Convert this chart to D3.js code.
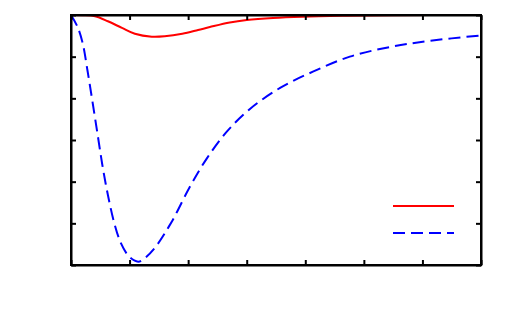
<!DOCTYPE html>
<html>
<head>
<meta charset="utf-8">
<style>
  body { margin: 0; background: #fff; }
  .axis path, .axis line { stroke: #000; stroke-width: 2; }
</style>
</head>
<body>
<div id="chart"></div>
<script src="https://cdn.jsdelivr.net/npm/d3@7"></script>
<script>
// values
var redX  = [0, 0.2, 0.41, 0.63, 0.87, 1.09, 1.38, 1.6, 1.9, 2.17, 2.37, 2.71, 3.0, 3.45, 3.96, 4.64, 5.5, 7];
var redY  = [0, -0.004, -0.03, -0.15, -0.31, -0.45, -0.52, -0.51, -0.45, -0.36, -0.29, -0.18, -0.12, -0.07, -0.04, -0.02, -0.006, 0];
var blueX = [0, 0.11, 0.2, 0.28, 0.37, 0.46, 0.54, 0.63, 0.74, 0.85, 0.97, 1.08, 1.15, 1.23, 1.43, 1.72, 2.03, 2.32, 2.66, 3.05, 3.57, 4.13, 4.76, 5.44, 6.13, 7];
var blueY = [0, -0.28, -0.68, -1.32, -2.11, -2.92, -3.64, -4.32, -5.0, -5.47, -5.76, -5.89, -5.92, -5.87, -5.59, -4.96, -4.12, -3.44, -2.8, -2.26, -1.75, -1.36, -1.0, -0.77, -0.62, -0.49];
var xTicks = [0, 1, 2, 3, 4, 5, 6, 7];
var yTicks = [-6, -5, -4, -3, -2, -1, 0];

var W = 507, H = 313;
var margin = {top: 15, right: 26, bottom: 48, left: 71},
    width = 481 - 71,
    height = 265 - 15;

var svg = d3.select("#chart").append("svg")
    .attr("width", W)
    .attr("height", H)
    .append("g")
    .attr("transform", "translate(" + margin.left + "," + margin.top + ")");

var x = d3.scaleLinear().domain([0, 7]).range([0, width]);
var y = d3.scaleLinear().domain([-6, 0]).range([height, 0]);

var line = d3.line()
    .x(function(d) { return x(d[0]); })
    .y(function(d) { return y(d[1]); })
    .curve(d3.curveCatmullRom.alpha(0.5));

var redData = redX.map(function(v, i) { return [v, redY[i]]; });
var blueData = blueX.map(function(v, i) { return [v, blueY[i]]; });

svg.append("path")
    .datum(blueData)
    .attr("d", line)
    .attr("fill", "none")
    .attr("stroke", "#0000ff")
    .attr("stroke-width", 2)
    .attr("stroke-dasharray", "12,6");

svg.append("path")
    .datum(redData)
    .attr("d", line)
    .attr("fill", "none")
    .attr("stroke", "#ff0000")
    .attr("stroke-width", 2);

// axes with inward ticks on all sides, no labels
var noLabel = function() { return ""; };
svg.append("g").attr("class", "axis")
    .attr("transform", "translate(0," + height + ")")
    .call(d3.axisBottom(x).tickValues(xTicks).tickSizeInner(-5).tickSizeOuter(0).tickFormat(noLabel));
svg.append("g").attr("class", "axis")
    .call(d3.axisTop(x).tickValues(xTicks).tickSizeInner(-5).tickSizeOuter(0).tickFormat(noLabel));
svg.append("g").attr("class", "axis")
    .call(d3.axisLeft(y).tickValues(yTicks).tickSizeInner(-5).tickSizeOuter(0).tickFormat(noLabel));
svg.append("g").attr("class", "axis")
    .attr("transform", "translate(" + width + ",0)")
    .call(d3.axisRight(y).tickValues(yTicks).tickSizeInner(-5).tickSizeOuter(0).tickFormat(noLabel));

svg.append("rect")
    .attr("width", width)
    .attr("height", height)
    .attr("fill", "none")
    .attr("stroke", "#000")
    .attr("stroke-width", 2);

// legend (keys only)
var legend = svg.append("g").attr("transform", "translate(" + (393 - 71) + "," + (206 - 15) + ")");
legend.append("line")
    .attr("x1", 0).attr("x2", 61).attr("y1", 0).attr("y2", 0)
    .attr("stroke", "#ff0000").attr("stroke-width", 2);
legend.append("line")
    .attr("x1", 0).attr("x2", 61).attr("y1", 27).attr("y2", 27)
    .attr("stroke", "#0000ff").attr("stroke-width", 2)
    .attr("stroke-dasharray", "12,6");
</script>
</body>
</html>
